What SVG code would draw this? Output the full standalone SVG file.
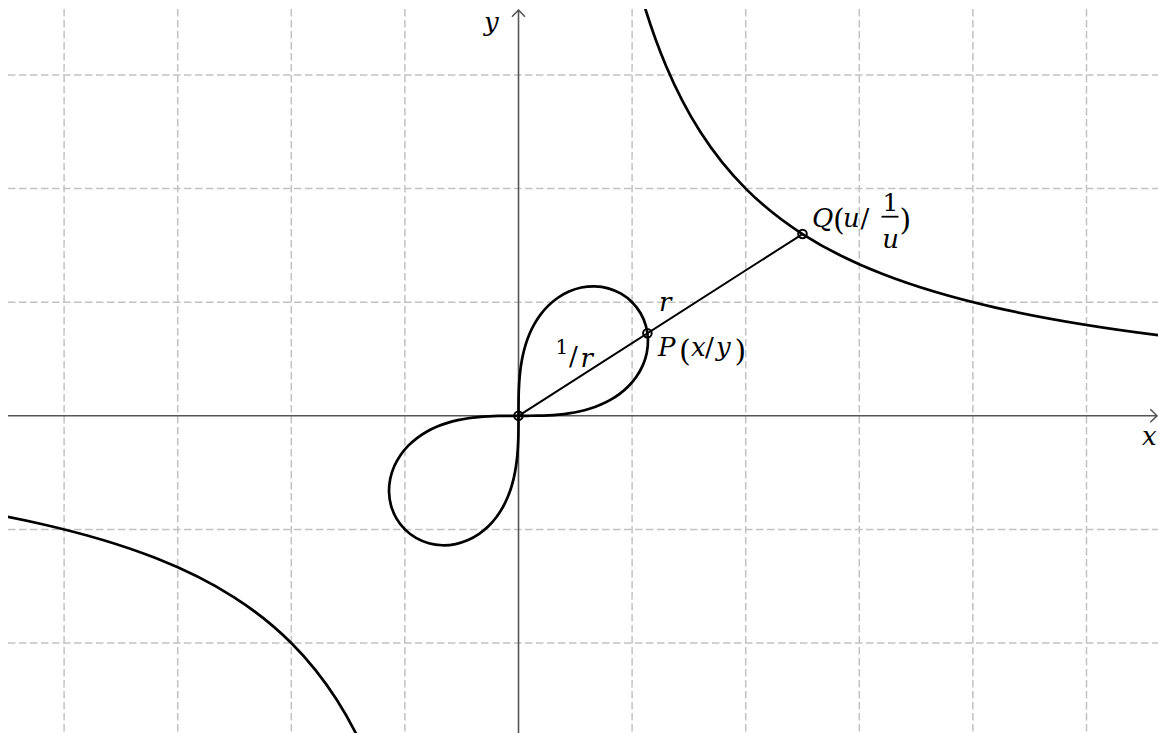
<svg xmlns="http://www.w3.org/2000/svg" xmlns:xlink="http://www.w3.org/1999/xlink" width="1158" height="733" viewBox="0 0 1158 733">
<style>
.grid{stroke:#c2c2c2;stroke-width:1.5;stroke-dasharray:7.5 3.5;fill:none}
.axis{stroke:#555;stroke-width:1.6;fill:none}
.curve{stroke:#000;stroke-width:2.7;fill:none;stroke-linecap:round;stroke-linejoin:round}
.seg{stroke:#000;stroke-width:2;fill:none}
.pt{stroke:#000;stroke-width:2;fill:none}
.it{font-family:'DejaVu Serif','Liberation Serif',serif;font-style:italic;font-size:26px;fill:#000}
.up{font-family:'DejaVu Serif','Liberation Serif',serif;font-style:normal;fill:#000}
</style>
<defs>
<clipPath id="view"><rect x="8" y="9" width="1150" height="724"/></clipPath>
<path id="hyp" d="M645.39,9 C652.32,31.22 659.25,49.86 666.18,66.26 C677.54,93.15 688.9,114.05 700.26,131.8 C715.41,155.47 730.550,173.45 745.7,188.6 C764.63,207.53 783.57,221.92 802.5,234.04 C829.01,251 855.51,263.45 882.02,273.8 C919.89,288.59 957.75,299.02 995.62,307.61 C1049.77,319.89 1103.92,328.26 1158.07,335.09"/>
<path id="half" d="M632.1,302.2 C628.84,298.94 625,296.01 621.02,293.7 C617.04,291.39 612.62,289.57 608.24,288.34 C603.86,287.11 599.2,286.47 594.72,286.34 C590.24,286.21 585.68,286.68 581.38,287.54 C577.08,288.41 572.86,289.83 568.94,291.53 C565.02,293.23 561.28,295.39 557.85,297.74 C554.42,300.09 551.25,302.8 548.36,305.62 C545.47,308.44 542.86,311.51 540.5,314.64 C538.14,317.77 536.05,321.07 534.18,324.38 C532.31,327.7 530.71,331.12 529.27,334.53 C527.83,337.95 526.62,341.42 525.55,344.87 C524.48,348.32 523.61,351.78 522.85,355.23 C522.09,358.68 521.49,362.13 520.97,365.55 C520.45,368.98 520.07,372.39 519.74,375.78 C519.42,379.17 519.2,382.54 519.02,385.9 C518.84,389.26 518.73,392.59 518.65,395.92 C518.57,399.25 518.55,402.57 518.52,405.88 C518.5,409.19 518.51,412.49 518.5,415.8"/>
</defs>
<g id="grid" clip-path="url(#view)">
<path class="grid" d="M64.1,9V733 M177.7,9V733 M291.3,9V733 M404.9,9V733 M632.1,9V733 M745.7,9V733 M859.3,9V733 M972.9,9V733 M1086.5,9V733"/>
<path class="grid" d="M8,75H1158 M8,188.6H1158 M8,302.2H1158 M8,529.4H1158 M8,643H1158"/>
</g>
<g id="axes" clip-path="url(#view)">
<path class="axis" d="M8,415.8H1157 M1150.3,409.3L1157,415.8L1150.3,422.3"/>
<path class="axis" d="M518.5,733V10 M512,16.7L518.5,10L525,16.7"/>
</g>
<g id="curves" clip-path="url(#view)">
<use xlink:href="#hyp" href="#hyp" class="curve"/>
<use xlink:href="#hyp" href="#hyp" class="curve" transform="rotate(180 518.5 415.8)"/>
<use xlink:href="#half" href="#half" class="curve"/>
<use xlink:href="#half" href="#half" class="curve" transform="matrix(0,-1,-1,0,934.3,934.3)"/>
<use xlink:href="#half" href="#half" class="curve" transform="rotate(180 518.5 415.8)"/>
<use xlink:href="#half" href="#half" class="curve" transform="matrix(0,1,1,0,102.7,-102.7)"/>
</g>
<g id="connectors">
<line class="seg" x1="518.5" y1="415.8" x2="802.5" y2="234.04"/>
</g>
<g id="node-O"><circle class="pt" cx="518.5" cy="415.8" r="4.3"/></g>
<g id="node-P">
<circle class="pt" cx="647.4" cy="333.3" r="4.3"/>
<text class="it" x="658" y="356">P</text>
<text class="up" font-size="30" x="679" y="361">(</text>
<text class="it" x="691" y="356">x</text>
<text class="up" font-size="26" x="705" y="356">/</text>
<text class="it" x="716" y="356">y</text>
<text class="up" font-size="30" x="734.5" y="361">)</text>
</g>
<g id="node-Q">
<circle class="pt" cx="802.5" cy="234.04" r="4.3"/>
<text class="it" x="812" y="227">Q</text>
<text class="up" font-size="30" x="833" y="229.5">(</text>
<text class="it" x="843" y="227">u</text>
<text class="up" font-size="26" x="860.5" y="227">/</text>
<line x1="881.5" y1="216.7" x2="898.5" y2="216.7" stroke="#000" stroke-width="1.8"/>
<text class="up" font-size="25" x="890.5" y="211" text-anchor="middle">1</text>
<text class="it" x="890.5" y="248" text-anchor="middle">u</text>
<text class="up" font-size="30" x="899.5" y="229.5">)</text>
</g>
<g id="labels">
<text class="it" x="484" y="31">y</text>
<text class="it" x="1142" y="445">x</text>
<text class="it" x="659" y="310.5">r</text>
<text class="up" font-size="20" x="555.5" y="354">1</text>
<text class="up" font-size="26" x="569" y="365">/</text>
<text class="it" font-size="20" x="580.5" y="367">r</text>
</g>
</svg>
